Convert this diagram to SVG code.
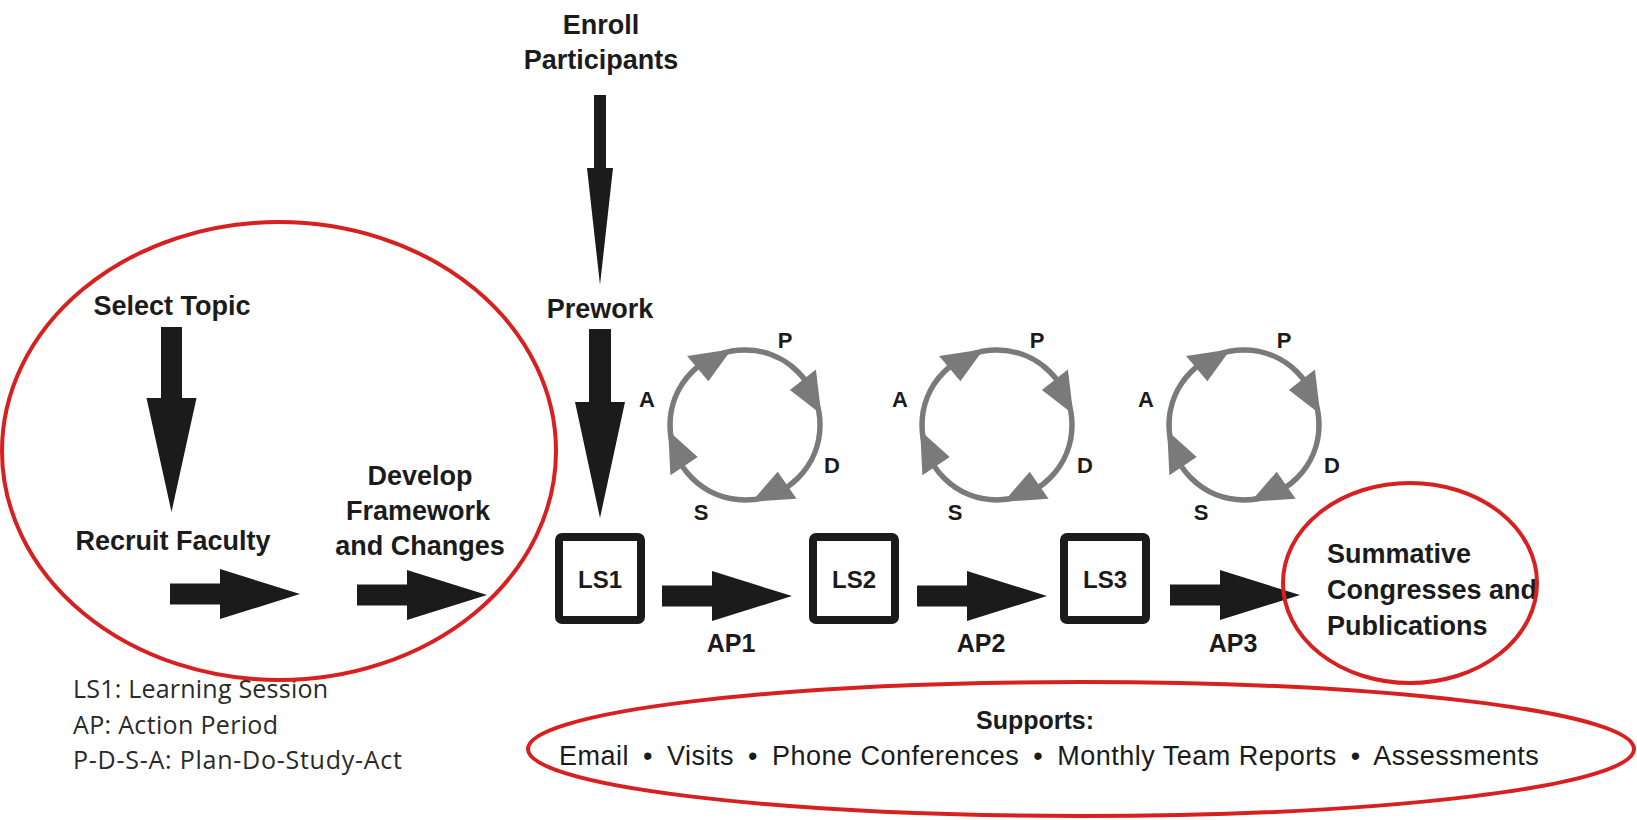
<svg xmlns="http://www.w3.org/2000/svg" xmlns:xlink="http://www.w3.org/1999/xlink" width="1637" height="820" viewBox="0 0 1637 820">
  <style>
    .lbl { font-family: "Liberation Sans", Arial, sans-serif; font-weight: bold; font-size: 27px; fill: #1b1b1b; text-anchor: middle; }
    .left { text-anchor: start; }
    .ls { font-family: "Liberation Sans", Arial, sans-serif; font-weight: bold; font-size: 24px; fill: #1b1b1b; text-anchor: middle; }
    .ap { font-family: "Liberation Sans", Arial, sans-serif; font-weight: bold; font-size: 25px; fill: #1b1b1b; text-anchor: middle; }
    .pdsa { font-family: "Liberation Sans", Arial, sans-serif; font-weight: bold; font-size: 22px; fill: #1b1b1b; text-anchor: middle; }
    .legend { font-family: "Open Sans", "Liberation Sans", sans-serif; font-size: 25px; font-weight: 500; fill: #2a2a2a; }
    .sup { font-family: "Liberation Sans", Arial, sans-serif; font-size: 27px; letter-spacing: 0.5px; fill: #1b1b1b; }
    .arrow { fill: #1b1b1b; }
    .box { fill: #ffffff; stroke: #1b1b1b; stroke-width: 8; }
    .ring { fill: #ffffff; stroke: #7a7a7a; stroke-width: 5.5; }
    .ringhead { fill: #7a7a7a; }
    .hl { fill: none; stroke: #d7201f; stroke-width: 4; }
  </style>
  <defs>
    <!-- block arrow pointing right, tip at the origin -->
    <path id="harrow" d="M-130,-10.5 H-80 V-25 L0,0 L-80,25 V10.5 H-130 Z"/>
    <!-- clockwise Plan-Do-Study-Act ring, centred on the origin -->
    <g id="pdsa-ring">
      <circle class="ring" cx="0" cy="0" r="75"/>
      <polygon class="ringhead" points="-13.4,-75.8 -57.9,-68.9 -36.6,-43.7"/>
      <polygon class="ringhead" points="76.3,-10.7 70.9,-55.4 44.9,-35.1"/>
      <polygon class="ringhead" points="6.7,76.7 51.6,73.7 32.7,46.7"/>
      <polygon class="ringhead" points="-76.8,5.4 -74.6,50.3 -47.3,31.9"/>
    </g>
  </defs>

  <rect width="1637" height="820" fill="#ffffff"/>

  <!-- flow connectors -->
  <g id="connectors">
    <path class="arrow" d="M161,327 H182 V398 H196.5 L171.5,512 L146.5,398 H161 Z"/>
    <use href="#harrow" class="arrow" transform="translate(300,594)"/>
    <use href="#harrow" class="arrow" transform="translate(487,595)"/>
    <path class="arrow" d="M594,95 H606 V168 H613 L600,285 L587,168 H594 Z"/>
    <path class="arrow" d="M589,329 H611 V402 H625 L600,518 L575,402 H589 Z"/>
    <use href="#harrow" class="arrow" transform="translate(792,596)"/>
    <use href="#harrow" class="arrow" transform="translate(1047,596)"/>
    <use href="#harrow" class="arrow" transform="translate(1300,595)"/>
  </g>

  <g id="select-topic">
    <text class="lbl" x="172" y="315">Select Topic</text>
  </g>
  <g id="recruit-faculty">
    <text class="lbl" x="173" y="550">Recruit Faculty</text>
  </g>
  <g id="develop-framework">
    <text class="lbl" x="420" y="485">Develop</text>
    <text class="lbl" x="418" y="520">Framework</text>
    <text class="lbl" x="420" y="555">and Changes</text>
  </g>
  <g id="enroll-participants">
    <text class="lbl" x="601" y="34">Enroll</text>
    <text class="lbl" x="601" y="69">Participants</text>
  </g>
  <g id="prework">
    <text class="lbl" x="600" y="318">Prework</text>
  </g>

  <!-- learning sessions -->
  <g id="ls1">
    <rect class="box" x="559" y="537" width="82" height="83" rx="3"/>
    <text class="ls" x="600" y="588">LS1</text>
  </g>
  <g id="ls2">
    <rect class="box" x="813" y="537" width="82" height="83" rx="3"/>
    <text class="ls" x="854" y="588">LS2</text>
  </g>
  <g id="ls3">
    <rect class="box" x="1064" y="537" width="82" height="83" rx="3"/>
    <text class="ls" x="1105" y="588">LS3</text>
  </g>

  <!-- action periods -->
  <g id="ap1"><text class="ap" x="731" y="652">AP1</text></g>
  <g id="ap2"><text class="ap" x="981" y="652">AP2</text></g>
  <g id="ap3"><text class="ap" x="1233" y="652">AP3</text></g>

  <!-- PDSA cycles -->
  <g id="pdsa1">
    <use href="#pdsa-ring" transform="translate(745,425)"/>
    <text class="pdsa" x="785" y="348">P</text>
    <text class="pdsa" x="647" y="407">A</text>
    <text class="pdsa" x="832" y="473">D</text>
    <text class="pdsa" x="701" y="520">S</text>
  </g>
  <g id="pdsa2">
    <use href="#pdsa-ring" transform="translate(997,425)"/>
    <text class="pdsa" x="1037" y="348">P</text>
    <text class="pdsa" x="900" y="407">A</text>
    <text class="pdsa" x="1085" y="473">D</text>
    <text class="pdsa" x="955" y="520">S</text>
  </g>
  <g id="pdsa3">
    <use href="#pdsa-ring" transform="translate(1244,425)"/>
    <text class="pdsa" x="1284" y="348">P</text>
    <text class="pdsa" x="1146" y="407">A</text>
    <text class="pdsa" x="1332" y="473">D</text>
    <text class="pdsa" x="1201" y="520">S</text>
  </g>

  <g id="summative">
    <text class="lbl left" x="1327" y="563">Summative</text>
    <text class="lbl left" x="1327" y="599">Congresses and</text>
    <text class="lbl left" x="1327" y="635">Publications</text>
  </g>

  <g id="supports">
    <text class="lbl" x="1035" y="729" style="font-size:25px">Supports:</text>
    <text class="sup" x="559" y="765">Email <tspan dx="6">•</tspan> <tspan dx="6">Visits</tspan> <tspan dx="6">•</tspan> <tspan dx="6">Phone Conferences</tspan> <tspan dx="6">•</tspan> <tspan dx="6">Monthly Team Reports</tspan> <tspan dx="6">•</tspan> <tspan dx="6">Assessments</tspan></text>
  </g>

  <g id="legend">
    <text class="legend" x="73" y="698" textLength="255">LS1: Learning Session</text>
    <text class="legend" x="73" y="734" textLength="205">AP: Action Period</text>
    <text class="legend" x="73" y="769" textLength="329">P-D-S-A: Plan-Do-Study-Act</text>
  </g>

  <!-- highlight rings -->
  <g id="highlights">
    <ellipse class="hl" cx="279" cy="451" rx="277" ry="229"/>
    <ellipse class="hl" cx="1410" cy="583" rx="127" ry="100"/>
    <ellipse class="hl" cx="1081" cy="749" rx="553" ry="67"/>
  </g>
</svg>
